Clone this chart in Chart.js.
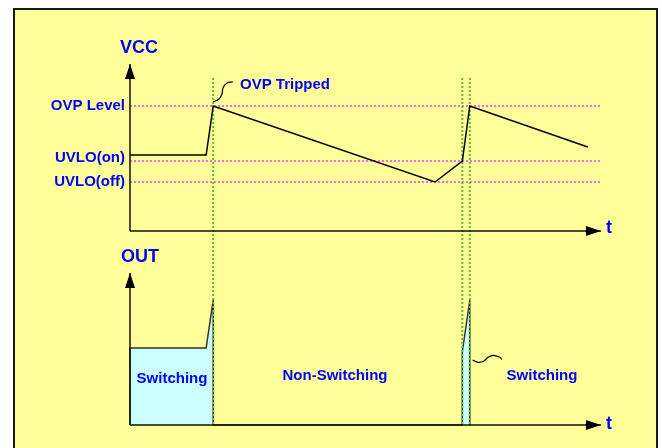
<!DOCTYPE html>
<html>
<head>
<meta charset="utf-8">
<script src="https://cdn.jsdelivr.net/npm/chart.js@4.4.1/dist/chart.umd.min.js"></script>
<style>
  html, body { margin: 0; padding: 0; background: #fff; }
  #wrap { width: 662px; height: 448px; }
</style>
</head>
<body>
<div id="wrap"><canvas id="timing"></canvas></div>
<script>
// VCC trace: time (0..100 along the t axis) and level
const vccTime  = [0, 16.2, 17.7, 64.9, 70.7, 72.3, 97.4];
const vccLevel = [7.6, 7.6, 12.5, 4.9, 7.0, 12.5, 8.4];

// threshold lines on the VCC panel
const thresholdNames  = ['OVP Level', 'UVLO(on)', 'UVLO(off)'];
const thresholdValues = [12.5, 7.0, 4.9];

// OUT envelope (switching blocks)
const outTime  = [0, 0, 16.2, 17.7, 17.7, 70.7, 70.7, 72.3, 72.3];
const outLevel = [0, 7.7, 7.7, 12.5, 0, 0, 7.3, 12.5, 0];

// OVP trip / restart moments (green dotted markers)
const tripTimes = [17.7, 70.7, 72.3];
const tripSpan  = [15.3, -19.4];

// callout squiggles
const tripCurveT = [17.66, 18.94, 19.57, 19.79, 20.64, 21.91];
const tripCurveV = [12.9, 13.2, 13.7, 14.3, 14.8, 14.9];
const swCurveT   = [72.9, 74.1, 75.2, 76.2, 77.3, 78.7, 79.1];
const swCurveV   = [6.5, 6.27, 6.37, 6.77, 6.97, 6.77, 6.57];

// region labels
const regionNames = ['Switching', 'Non-Switching', 'Switching'];

const W = 662, H = 448;
const X0 = 130, PX_PER_T = 4.7;
const VCC_ZERO = 231, OUT_ZERO = 425, PX_PER_V = 10;

function pts(xs, ys) {
  return xs.map((x, i) => ({x: x, y: ys[i]}));
}

const datasets = [];

datasets.push({
  data: pts(outTime, outLevel), yAxisID: 'y2',
  borderColor: '#333', borderWidth: 1.5,
  backgroundColor: '#ccffff', fill: 'origin', order: 5
});

thresholdValues.forEach(v => {
  datasets.push({
    data: pts([0, 100], [v, v]), yAxisID: 'y',
    borderColor: '#ff33ff', borderWidth: 1.5, borderDash: [2, 2],
    fill: false, order: 4
  });
});

tripTimes.forEach(t => {
  datasets.push({
    data: pts([t, t], tripSpan), yAxisID: 'y',
    borderColor: '#66bb33', borderWidth: 2, borderDash: [2, 2],
    fill: false, order: 3
  });
});

datasets.push({
  data: pts(vccTime, vccLevel), yAxisID: 'y',
  borderColor: '#000', borderWidth: 1.5, fill: false, order: 1
});

datasets.push({
  data: pts(tripCurveT, tripCurveV), yAxisID: 'y',
  borderColor: '#000', borderWidth: 1.2, tension: 0.4, fill: false, order: 1
});
datasets.push({
  data: pts(swCurveT, swCurveV), yAxisID: 'y2',
  borderColor: '#000', borderWidth: 1.2, tension: 0.4, fill: false, order: 1
});

const BLUE = '#0000ff';
const FONT = '"Liberation Sans", Arial, sans-serif';

const framePlugin = {
  id: 'frame',
  beforeDraw(chart) {
    const c = chart.ctx;
    c.save();
    c.fillStyle = '#fff';
    c.fillRect(0, 0, W, H);
    c.fillStyle = '#ffff99';
    c.fillRect(14, 9, 643, 450);
    c.strokeStyle = '#1a1a1a';
    c.lineWidth = 2;
    c.strokeRect(14, 9, 643, 450);
    c.restore();
  }
};

function arrow(c, x1, y1, x2, y2) {
  c.beginPath();
  c.moveTo(x1, y1);
  c.lineTo(x2, y2);
  c.stroke();
  const ang = Math.atan2(y2 - y1, x2 - x1);
  const len = 15, hw = 5;
  c.beginPath();
  c.moveTo(x2, y2);
  c.lineTo(x2 - len * Math.cos(ang) + hw * Math.sin(ang), y2 - len * Math.sin(ang) - hw * Math.cos(ang));
  c.lineTo(x2 - len * Math.cos(ang) - hw * Math.sin(ang), y2 - len * Math.sin(ang) + hw * Math.cos(ang));
  c.closePath();
  c.fill();
}

const annotatePlugin = {
  id: 'annotate',
  afterDatasetsDraw(chart) {
    const c = chart.ctx;
    const x = chart.scales.x, y = chart.scales.y, y2 = chart.scales.y2;
    const x0 = x.getPixelForValue(0);
    const xEnd = x.getPixelForValue(100.2);
    const vBase = y.getPixelForValue(0);
    const oBase = y2.getPixelForValue(0);

    c.save();
    c.strokeStyle = '#111';
    c.fillStyle = '#000';
    c.lineWidth = 1.5;
    arrow(c, x0, vBase, x0, y.getPixelForValue(16.7));
    arrow(c, x0, vBase, xEnd, vBase);
    arrow(c, x0, oBase, x0, y2.getPixelForValue(15.2));
    arrow(c, x0, oBase, xEnd, oBase);

    c.fillStyle = BLUE;
    c.textBaseline = 'middle';

    c.font = 'bold 18px ' + FONT;
    c.textAlign = 'left';
    c.fillText('VCC', 120, 48);
    c.fillText('OUT', 121, 257);
    c.fillText('t', 606, vBase - 3);
    c.fillText('t', 606, oBase - 1);

    c.font = 'bold 15px ' + FONT;
    c.textAlign = 'right';
    const nudge = [0, -3, 0];
    thresholdNames.forEach((name, i) => {
      c.fillText(name, 125, y.getPixelForValue(thresholdValues[i]) + nudge[i]);
    });

    c.textAlign = 'left';
    c.fillText('OVP Tripped', 240, 85);

    c.textAlign = 'center';
    c.fillText(regionNames[0], 172, 379);
    c.fillText(regionNames[1], 335, 376);
    c.fillText(regionNames[2], 542, 376);
    c.restore();
  }
};

new Chart(document.getElementById('timing'), {
  type: 'line',
  data: { datasets: datasets },
  options: {
    responsive: true,
    maintainAspectRatio: false,
    animation: false,
    events: [],
    layout: { padding: 0 },
    elements: { point: { radius: 0 }, line: { tension: 0 } },
    plugins: { legend: { display: false }, tooltip: { enabled: false }, title: { display: false } },
    scales: {
      x: { type: 'linear', display: false,
           min: -X0 / PX_PER_T, max: (W - X0) / PX_PER_T },
      y: { type: 'linear', display: false,
           max: VCC_ZERO / PX_PER_V, min: (VCC_ZERO - H) / PX_PER_V },
      y2: { type: 'linear', display: false,
            max: OUT_ZERO / PX_PER_V, min: (OUT_ZERO - H) / PX_PER_V }
    }
  },
  plugins: [framePlugin, annotatePlugin]
});
</script>
</body>
</html>
